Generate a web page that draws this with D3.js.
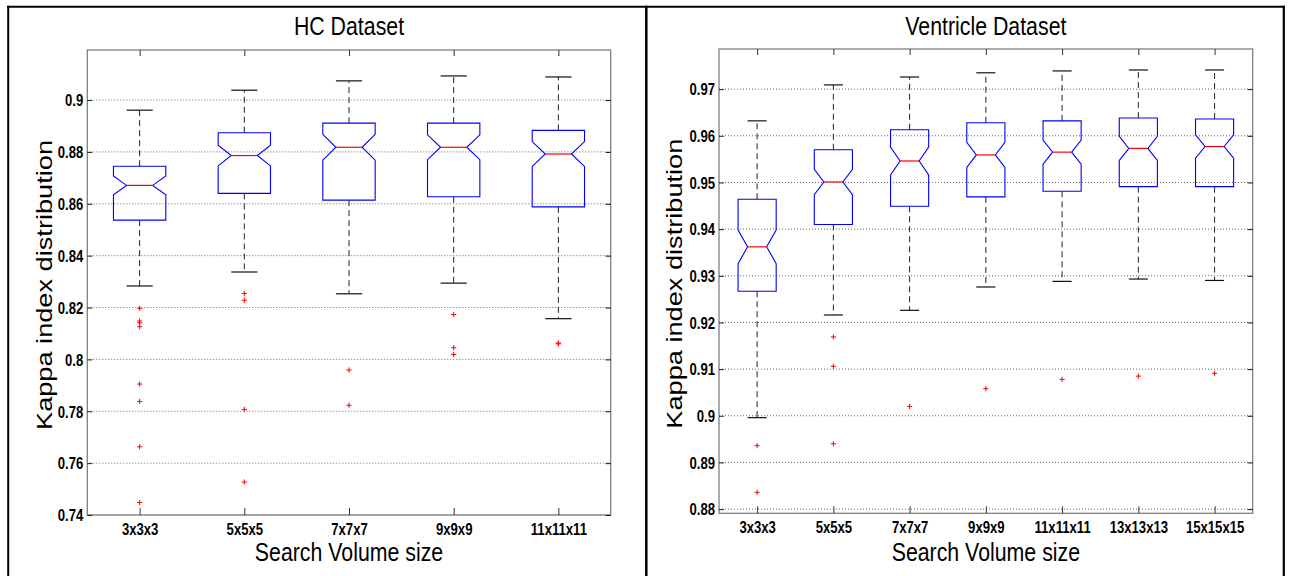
<!DOCTYPE html>
<html>
<head>
<meta charset="utf-8">
<script src="https://cdn.jsdelivr.net/npm/d3@7"></script>
<style>
  body { margin: 0; background: #fff; }
  svg { display: block; }
</style>
</head>
<body>
<svg id="fig" width="1290" height="576"></svg>
<script>
// ---- HC dataset: notched box statistics per search volume ----
const hcCategories = ["3x3x3", "5x5x5", "7x7x7", "9x9x9", "11x11x11"];
const hcQ1 = [0.8537, 0.8640, 0.8614, 0.8627, 0.8588];
const hcMedian = [0.8671, 0.8786, 0.8818, 0.8818, 0.8792];
const hcQ3 = [0.8745, 0.8874, 0.8911, 0.8911, 0.8883];
const hcLowerWhisker = [0.8283, 0.8337, 0.8253, 0.8294, 0.8157];
const hcUpperWhisker = [0.8961, 0.9038, 0.9074, 0.9093, 0.9089];
const hcNotch = [0.0036, 0.0040, 0.0050, 0.0048, 0.0048];
const hcOutliers = [
  [0.8197, 0.8148, 0.8141, 0.8126, 0.7905, 0.7838, 0.7663, 0.7448],
  [0.8254, 0.8228, 0.7807, 0.7527],
  [0.7959, 0.7823],
  [0.8173, 0.8045, 0.8019],
  [0.8063, 0.8060]
];
const hcYTicks = [0.74, 0.76, 0.78, 0.80, 0.82, 0.84, 0.86, 0.88, 0.90];
const hcYTickLabels = ["0.74", "0.76", "0.78", "0.8", "0.82", "0.84", "0.86", "0.88", "0.9"];
const hcYDomain = [0.74, 0.9193];

// ---- Ventricle dataset ----
const vCategories = ["3x3x3", "5x5x5", "7x7x7", "9x9x9", "11x11x11", "13x13x13", "15x15x15"];
const vQ1 = [0.9267, 0.9410, 0.9449, 0.9469, 0.9481, 0.9491, 0.9491];
const vMedian = [0.9362, 0.9501, 0.9546, 0.9559, 0.9565, 0.9573, 0.9577];
const vQ3 = [0.9464, 0.9570, 0.9613, 0.9628, 0.9632, 0.9638, 0.9636];
const vLowerWhisker = [0.8996, 0.9216, 0.9226, 0.9276, 0.9288, 0.9293, 0.9290];
const vUpperWhisker = [0.9632, 0.9709, 0.9726, 0.9735, 0.9739, 0.9741, 0.9741];
const vNotch = [0.0036, 0.0027, 0.0030, 0.0027, 0.0026, 0.0026, 0.0025];
const vOutliers = [
  [0.8936, 0.8836],
  [0.9169, 0.9106, 0.8940],
  [0.9020],
  [0.9058],
  [0.9078],
  [0.9085],
  [0.9091]
];
const vYTicks = [0.88, 0.89, 0.90, 0.91, 0.92, 0.93, 0.94, 0.95, 0.96, 0.97];
const vYTickLabels = ["0.88", "0.89", "0.9", "0.91", "0.92", "0.93", "0.94", "0.95", "0.96", "0.97"];
const vYDomain = [0.8791, 0.9786];

const xLabel = "Search Volume size";
const yLabel = "Kappa index distribution";

const svg = d3.select("#fig");
const FONT = "'Liberation Sans', Arial, Helvetica, sans-serif";
const SX = 0.82; // horizontal squeeze of the lettering

// outer frames of the two figures
const frame = svg.append("g").attr("stroke", "#000").attr("fill", "none");
frame.append("line").attr("x1", 8.2).attr("x2", 8.2).attr("y1", 5.7).attr("y2", 580).attr("stroke-width", 2);
frame.append("line").attr("x1", 7.2).attr("x2", 1285).attr("y1", 6.7).attr("y2", 6.7).attr("stroke-width", 2);
frame.append("line").attr("x1", 646.3).attr("x2", 646.3).attr("y1", 5.7).attr("y2", 580).attr("stroke-width", 2.5);
frame.append("line").attr("x1", 1283.8).attr("x2", 1283.8).attr("y1", 5.7).attr("y2", 580).attr("stroke-width", 2.2);

function squeezedText(parent, x, y, str, size, weight) {
  return parent.append("text")
    .attr("transform", `translate(${x},${y}) scale(${SX},1)`)
    .attr("text-anchor", "middle")
    .attr("font-family", FONT)
    .attr("font-size", size)
    .attr("font-weight", weight || "normal")
    .attr("fill", "#000")
    .text(str);
}

function drawPanel(p) {
  const g = svg.append("g");
  const x = d3.scalePoint().domain(p.categories).range([p.left, p.right]).padding(0.5);
  const y = d3.scaleLinear().domain(p.yDomain).range([p.bottom, p.top]);
  const hw = x.step() * 0.25;

  // horizontal dotted grid
  g.append("g").selectAll("line").data(p.yTicks).join("line")
    .attr("x1", p.left).attr("x2", p.right)
    .attr("y1", d => y(d)).attr("y2", d => y(d))
    .attr("stroke", "#666").attr("stroke-width", 1)
    .attr("stroke-dasharray", "1,2");

  const stats = p.categories.map((c, i) => ({
    c, q1: p.q1[i], med: p.median[i], q3: p.q3[i],
    lo: p.lowerWhisker[i], hi: p.upperWhisker[i], notch: p.notch[i], out: p.outliers[i]
  }));

  const box = g.append("g").selectAll("g").data(stats).join("g")
    .attr("transform", d => `translate(${x(d.c)},0)`);

  // dashed whiskers
  box.append("line").attr("x1", 0).attr("x2", 0)
    .attr("y1", d => y(d.q3)).attr("y2", d => y(d.hi))
    .attr("stroke", "#222").attr("stroke-dasharray", "6,4");
  box.append("line").attr("x1", 0).attr("x2", 0)
    .attr("y1", d => y(d.q1)).attr("y2", d => y(d.lo))
    .attr("stroke", "#222").attr("stroke-dasharray", "6,4");
  // whisker caps
  box.append("line").attr("x1", -hw / 2).attr("x2", hw / 2)
    .attr("y1", d => y(d.hi)).attr("y2", d => y(d.hi))
    .attr("stroke", "#111").attr("stroke-width", 1.2);
  box.append("line").attr("x1", -hw / 2).attr("x2", hw / 2)
    .attr("y1", d => y(d.lo)).attr("y2", d => y(d.lo))
    .attr("stroke", "#111").attr("stroke-width", 1.2);

  // notched boxes
  box.append("path")
    .attr("d", d => {
      const a = y(d.q3), b = y(d.med + d.notch), m = y(d.med), c = y(d.med - d.notch), e = y(d.q1);
      return `M${-hw},${a}H${hw}V${b}L${hw / 2},${m}L${hw},${c}V${e}H${-hw}V${c}L${-hw / 2},${m}L${-hw},${b}Z`;
    })
    .attr("fill", "none").attr("stroke", "#0000ff").attr("stroke-width", 1.1);

  // medians
  box.append("line").attr("x1", -hw / 2).attr("x2", hw / 2)
    .attr("y1", d => y(d.med)).attr("y2", d => y(d.med))
    .attr("stroke", "#ff0000").attr("stroke-width", 1.2);

  // outliers
  box.selectAll("path.outlier").data(d => d.out).join("path")
    .attr("class", "outlier")
    .attr("d", v => `M-2.6,${y(v)}h5.2M0,${y(v) - 2.6}v5.2`)
    .attr("stroke", "#ff0000").attr("stroke-width", 1);

  // axes frame
  g.append("rect")
    .attr("x", p.left).attr("y", p.top)
    .attr("width", p.right - p.left).attr("height", p.bottom - p.top)
    .attr("fill", "none").attr("stroke", "#808080").attr("stroke-width", 1.3);

  // left axis with labels, ticks pointing inward
  const ya = g.append("g").attr("transform", `translate(${p.left},0)`)
    .call(d3.axisLeft(y).tickValues(p.yTicks).tickFormat((d, i) => p.yTickLabels[i]).tickSize(-5).tickPadding(4));
  ya.select(".domain").remove();
  ya.selectAll(".tick line").attr("stroke", "#222");
  ya.selectAll(".tick text")
    .attr("font-family", FONT).attr("font-weight", "bold").attr("font-size", 16)
    .attr("fill", "#000")
    .attr("x", -4 / SX).attr("dy", "0.36em")
    .attr("transform", `scale(${SX},1)`);

  // right axis ticks
  const yr = g.append("g").attr("transform", `translate(${p.right},0)`)
    .call(d3.axisRight(y).tickValues(p.yTicks).tickFormat("").tickSize(-5));
  yr.select(".domain").remove();
  yr.selectAll(".tick line").attr("stroke", "#111");

  // bottom axis with category labels
  const xa = g.append("g").attr("transform", `translate(0,${p.bottom})`)
    .call(d3.axisBottom(x).tickSize(-7).tickPadding(8.5));
  xa.select(".domain").remove();
  xa.selectAll(".tick line").attr("stroke", "#333");
  xa.selectAll(".tick text")
    .attr("font-family", FONT).attr("font-weight", "bold").attr("font-size", 16)
    .attr("fill", "#000")
    .attr("transform", `scale(${SX},1)`);

  // top axis ticks
  const xt = g.append("g").attr("transform", `translate(0,${p.top})`)
    .call(d3.axisTop(x).tickFormat("").tickSize(-6));
  xt.select(".domain").remove();
  xt.selectAll(".tick line").attr("stroke", "#333");

  const cx = (p.left + p.right) / 2;
  const cy = (p.top + p.bottom) / 2;
  squeezedText(g, cx, 34.5, p.title, 26);
  squeezedText(g, cx, 561, xLabel, 26);
  g.append("text")
    .attr("transform", `translate(${p.yLabelX},${cy + 2.5}) rotate(-90) scale(1.235,1)`)
    .attr("text-anchor", "middle")
    .attr("font-family", FONT).attr("font-size", 22).attr("fill", "#000")
    .text(yLabel);
}

drawPanel({
  title: "HC Dataset",
  categories: hcCategories, q1: hcQ1, median: hcMedian, q3: hcQ3,
  lowerWhisker: hcLowerWhisker, upperWhisker: hcUpperWhisker, notch: hcNotch, outliers: hcOutliers,
  yTicks: hcYTicks, yTickLabels: hcYTickLabels, yDomain: hcYDomain,
  left: 87.3, right: 610.7, top: 50, bottom: 515, yLabelX: 51.5
});

drawPanel({
  title: "Ventricle Dataset",
  categories: vCategories, q1: vQ1, median: vMedian, q3: vQ3,
  lowerWhisker: vLowerWhisker, upperWhisker: vUpperWhisker, notch: vNotch, outliers: vOutliers,
  yTicks: vYTicks, yTickLabels: vYTickLabels, yDomain: vYDomain,
  left: 719, right: 1252.7, top: 49, bottom: 513.3, yLabelX: 682
});
</script>
</body>
</html>
